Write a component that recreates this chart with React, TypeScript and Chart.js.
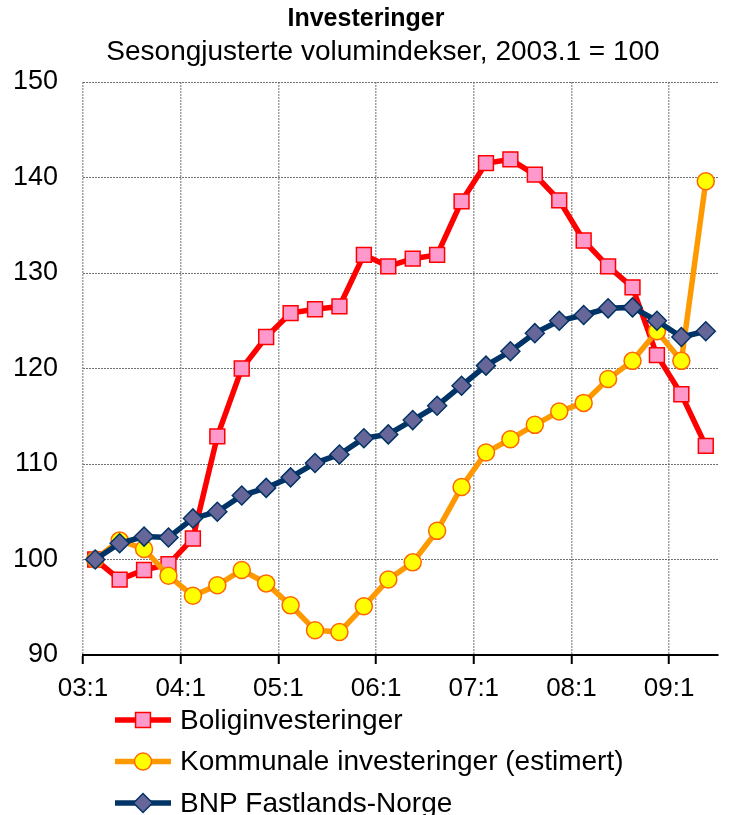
import React, { useEffect, useRef } from "react";
import { Chart, registerables } from "chart.js";

Chart.register(...registerables);

const TITLE = "Investeringer";
const SUBTITLE = "Sesongjusterte volumindekser, 2003.1 = 100";

const quarters = [
  "03:1", "03:2", "03:3", "03:4",
  "04:1", "04:2", "04:3", "04:4",
  "05:1", "05:2", "05:3", "05:4",
  "06:1", "06:2", "06:3", "06:4",
  "07:1", "07:2", "07:3", "07:4",
  "08:1", "08:2", "08:3", "08:4",
  "09:1", "09:2",
];

const tickLabels = ["03:1", "04:1", "05:1", "06:1", "07:1", "08:1", "09:1"];

const seriesNames = [
  "Boliginvesteringer",
  "Kommunale investeringer (estimert)",
  "BNP Fastlands-Norge",
];

const bolig = [
  100, 97.9, 98.9, 99.5, 102.2, 112.9, 120.0, 123.3, 125.8, 126.2, 126.5, 131.9,
  130.7, 131.5, 131.9, 137.5, 141.5, 141.9, 140.3, 137.6, 133.4, 130.7, 128.5,
  121.4, 117.3, 111.9,
];

const kommunale = [
  100, 102.0, 101.1, 98.3, 96.2, 97.3, 98.9, 97.5, 95.2, 92.6, 92.4, 95.1, 97.9,
  99.7, 103.0, 107.6, 111.2, 112.6, 114.1, 115.5, 116.4, 118.9, 120.8, 123.9,
  120.8, 139.6,
];

const bnp = [
  100, 101.7, 102.4, 102.3, 104.3, 105.0, 106.7, 107.5, 108.6, 110.1, 111.0,
  112.7, 113.1, 114.6, 116.1, 118.2, 120.3, 121.8, 123.7, 125.0, 125.6, 126.3,
  126.4, 125.0, 123.3, 123.9,
];

const FONT = "'Liberation Sans', Arial, sans-serif";
const W = 730;
const H = 815;

function toPoints(values: number[]) {
  return values.map((v, i) => ({ x: i + 0.5, y: v }));
}

function drawMarker(ctx: CanvasRenderingContext2D, style: string, x: number, y: number, r: number) {
  ctx.beginPath();
  if (style === "rect") {
    const s = Math.SQRT1_2 * r;
    ctx.rect(x - s, y - s, 2 * s, 2 * s);
  } else if (style === "rectRot") {
    ctx.moveTo(x - r, y);
    ctx.lineTo(x, y - r);
    ctx.lineTo(x + r, y);
    ctx.lineTo(x, y + r);
    ctx.closePath();
  } else {
    ctx.arc(x, y, r, 0, Math.PI * 2);
  }
  ctx.fill();
  ctx.stroke();
}

const overlayPlugin = {
  id: "overlay",
  afterDraw(chart: any) {
    const ctx: CanvasRenderingContext2D = chart.ctx;
    ctx.save();
    ctx.fillStyle = "#000";
    ctx.textAlign = "center";
    ctx.textBaseline = "middle";
    ctx.font = `bold 25px ${FONT}`;
    ctx.fillText(TITLE, 366, 19);
    ctx.font = `28px ${FONT}`;
    ctx.fillText(SUBTITLE, 383, 52);

    // legend: one entry per row
    const legendOrder = [0, 1, 2];
    legendOrder.forEach((dsIndex, row) => {
      const ds = chart.data.datasets[dsIndex];
      const y = 720 + row * 41.5;
      ctx.strokeStyle = ds.borderColor;
      ctx.lineWidth = 5.5;
      ctx.setLineDash([]);
      ctx.beginPath();
      ctx.moveTo(115, y);
      ctx.lineTo(171, y);
      ctx.stroke();
      ctx.fillStyle = ds.pointBackgroundColor;
      ctx.strokeStyle = ds.pointBorderColor;
      ctx.lineWidth = 1.5;
      drawMarker(ctx, ds.pointStyle, 143, y, ds.pointRadius);
      ctx.fillStyle = "#000";
      ctx.textAlign = "left";
      ctx.textBaseline = "middle";
      ctx.font = `28px ${FONT}`;
      ctx.fillText(ds.label, 180, y + 1);
    });
    ctx.restore();
  },
};

export default function App() {
  const ref = useRef<HTMLCanvasElement | null>(null);

  useEffect(() => {
    if (!ref.current) return;
    const chart = new Chart(ref.current, {
      type: "line",
      data: {
        labels: quarters,
        datasets: [
          {
            label: seriesNames[0],
            data: toPoints(bolig),
            borderColor: "#FF0000",
            borderWidth: 5.5,
            pointStyle: "rect",
            pointRadius: 10.5,
            pointHoverRadius: 10.5,
            pointBackgroundColor: "#FF99CC",
            pointBorderColor: "#FF0000",
            pointBorderWidth: 1.5,
            tension: 0,
            order: 3,
          },
          {
            label: seriesNames[1],
            data: toPoints(kommunale),
            borderColor: "#FF9900",
            borderWidth: 5.5,
            pointStyle: "circle",
            pointRadius: 8.5,
            pointHoverRadius: 8.5,
            pointBackgroundColor: "#FFFF00",
            pointBorderColor: "#FF6600",
            pointBorderWidth: 1.5,
            tension: 0,
            order: 2,
          },
          {
            label: seriesNames[2],
            data: toPoints(bnp),
            borderColor: "#003366",
            borderWidth: 5.5,
            pointStyle: "rectRot",
            pointRadius: 9.5,
            pointHoverRadius: 9.5,
            pointBackgroundColor: "#666699",
            pointBorderColor: "#003366",
            pointBorderWidth: 1.5,
            tension: 0,
            order: 1,
          },
        ] as any,
      },
      options: {
        responsive: false,
        animation: false,
        devicePixelRatio: 1,
        layout: { padding: { left: 0, right: 7, top: 82, bottom: 110 } },
        plugins: {
          legend: { display: false },
          title: { display: false },
          tooltip: { enabled: false },
        },
        scales: {
          x: {
            type: "linear",
            min: 0,
            max: quarters.length,
            afterBuildTicks: (scale: any) => {
              scale.ticks = tickLabels.map((_, i) => ({ value: i * 4 }));
            },
            afterFit: (scale: any) => {
              scale.height = 50;
            },
            ticks: {
              color: "#000",
              font: { family: FONT, size: 26 },
              padding: 9,
              maxRotation: 0,
              autoSkip: false,
              callback: (v: any) => tickLabels[Math.round(Number(v) / 4)] ?? "",
            },
            grid: {
              color: "#A0A0A0",
              lineWidth: 1.5,
              drawTicks: true,
              tickLength: 9,
              tickColor: "#000",
              tickWidth: 2,
              tickBorderDash: [],
            },
            border: { display: true, color: "#000", width: 2, dash: [2, 1] },
          },
          y: {
            min: 90,
            max: 150,
            afterFit: (scale: any) => {
              scale.width = 83;
            },
            ticks: {
              stepSize: 10,
              color: "#000",
              font: { family: FONT, size: 27 },
              padding: 25,
            },
            grid: {
              color: "#707070",
              lineWidth: 1,
              drawTicks: false,
            },
            border: { display: false, dash: [2, 1] },
          },
        },
      } as any,
      plugins: [overlayPlugin],
    });
    return () => chart.destroy();
  }, []);

  return (
    <div style={{ position: "absolute", left: 0, top: 0, width: W, height: H, background: "#fff" }}>
      <canvas ref={ref} width={W} height={H} style={{ width: W, height: H, display: "block" }} />
    </div>
  );
}
